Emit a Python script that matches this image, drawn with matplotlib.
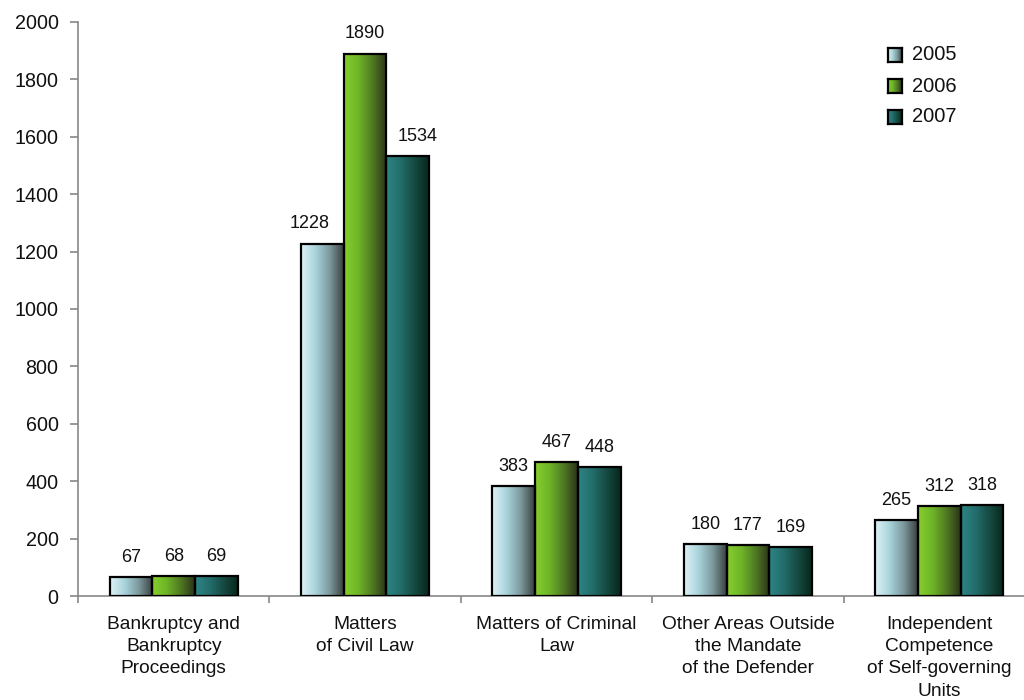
import numpy as np
import matplotlib
matplotlib.use("Agg")
import matplotlib.pyplot as plt
from matplotlib.colors import LinearSegmentedColormap
from matplotlib.patches import Rectangle

plt.rcParams['font.family'] = ['Liberation Sans', 'DejaVu Sans']

categories = [
    "Bankruptcy and\nBankruptcy\nProceedings",
    "Matters\nof Civil Law",
    "Matters of Criminal\nLaw",
    "Other Areas Outside\nthe Mandate\nof the Defender",
    "Independent\nCompetence\nof Self-governing\nUnits",
]
years = ["2005", "2006", "2007"]
values_2005 = [67, 1228, 383, 180, 265]
values_2006 = [68, 1890, 467, 177, 312]
values_2007 = [69, 1534, 448, 169, 318]
series = [values_2005, values_2006, values_2007]

# left-to-right shading for each year's bars
gradients = [
    ["#dff2f6", "#a9d4dc", "#7c9a9e", "#3a3f3f"],
    ["#86cf2c", "#6fb528", "#4f7a22", "#2a321a"],
    ["#2f8585", "#236e6c", "#164a42", "#07271a"],
]
cmaps = [LinearSegmentedColormap.from_list(f"g{i}", c) for i, c in enumerate(gradients)]

fig = plt.figure(figsize=(10.24, 7.0), dpi=100)
ax = fig.add_axes([78 / 1024, 104 / 700, (1035 - 78) / 1024, 574 / 700])

ax.set_xlim(-0.5, len(categories) - 0.5)
ax.set_ylim(0, 2000)

grad = np.linspace(0, 1, 256).reshape(1, -1)
bar_w = 0.223
offsets = [-bar_w, 0, bar_w]

for s, (vals, cmap, off) in enumerate(zip(series, cmaps, offsets)):
    for i, v in enumerate(vals):
        x0 = i + off - bar_w / 2
        im = ax.imshow(grad, cmap=cmap, aspect='auto',
                       extent=(x0, x0 + bar_w, 0, v), zorder=2,
                       interpolation='bilinear')
        rect = Rectangle((x0, 0), bar_w, v, facecolor='none',
                         edgecolor='black', linewidth=1.6, zorder=3)
        ax.add_patch(rect)
        im.set_clip_path(rect)
        # nudge labels beside the tallest bar so they stay clear of it
        dx = 0
        if i == 1 and s == 0:
            dx = -9
        elif i == 1 and s == 2:
            dx = 7
        ax.annotate(str(v), (i + off, v), xytext=(dx, 8),
                    textcoords='offset points', ha='center', va='bottom',
                    fontsize=13, color='#111111')

for sp in ['top', 'right']:
    ax.spines[sp].set_visible(False)
for sp in ['left', 'bottom']:
    ax.spines[sp].set_color('#888888')
    ax.spines[sp].set_linewidth(1.2)

ax.set_yticks(np.arange(0, 2001, 200))
ax.tick_params(axis='y', direction='out', length=6, color='#888888', pad=8,
               labelsize=14.2, labelcolor='#111111', width=1.2)

# category boundary ticks with labels centred under each group
ax.set_xticks(np.arange(-0.5, len(categories), 1.0))
ax.set_xticklabels([])
ax.tick_params(axis='x', direction='out', length=5, color='#888888', width=1.2)
for i, c in enumerate(categories):
    ax.text(i, -0.034, c, transform=ax.get_xaxis_transform(), ha='center',
            va='top', fontsize=13.8, color='#111111', linespacing=1.42)

# legend with shaded swatches
for k, (yr, cmap) in enumerate(zip(years, cmaps)):
    yc = 55 + 31 * k
    x0, x1 = 888 / 1024, 902 / 1024
    y0, y1 = 1 - (yc + 7) / 700, 1 - (yc - 7) / 700
    fax = fig.add_axes([x0, y0, x1 - x0, y1 - y0])
    fax.imshow(grad, cmap=cmap, aspect='auto', extent=(0, 1, 0, 1))
    fax.set_xticks([]); fax.set_yticks([])
    for sp in fax.spines.values():
        sp.set_linewidth(1.6)
        sp.set_color('black')
    fig.text(912 / 1024, 1 - yc / 700, yr, ha='left', va='center',
             fontsize=14.5, color='#111111')

fig.savefig("out.png", dpi=100)
